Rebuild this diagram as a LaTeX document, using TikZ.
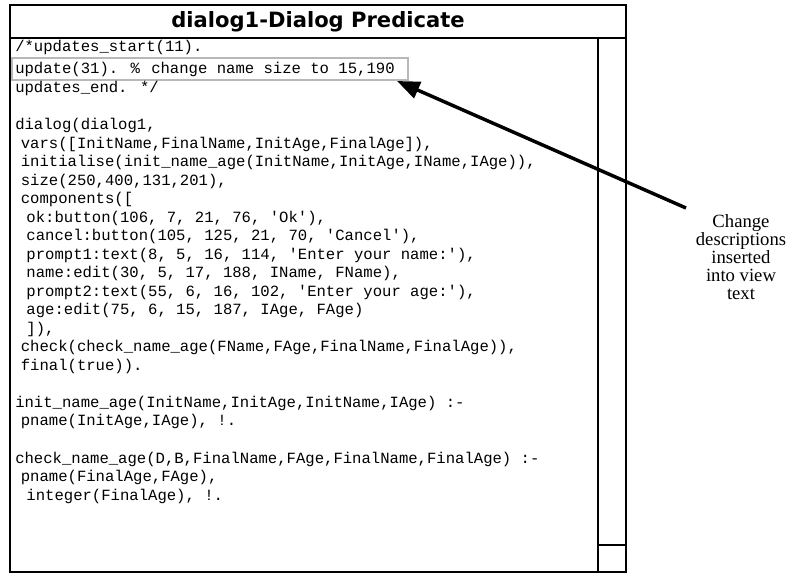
\documentclass[tikz,border=0pt]{standalone}
\usepackage{fontspec}
\setmainfont{Liberation Serif}
\newfontfamily\codefont{Liberation Mono}
\newfontfamily\titlefont{DejaVu Sans}
\usetikzlibrary{arrows.meta}
\newcommand{\ind}{\hspace{4.2pt}}
\begin{document}
\begin{tikzpicture}[x=0.75pt,y=-0.75pt,
  code/.style={anchor=base west,inner sep=0pt,font=\codefont\fontsize{11.7}{13}\selectfont},
  win/.style={draw=black,line width=1.5pt},
  hlbox/.style={draw=black!28,line width=1.2pt},
  lbl/.style={align=center,font=\fontsize{14}{13.6}\selectfont,inner sep=0pt},
  bigarrow/.style={line width=2.6pt,-{Triangle[length=17pt,width=13pt]}}]
\useasboundingbox (0,0) rectangle (793,575);
% window
\draw[win] (10,5) rectangle (626,572);
\draw[win] (10,38) -- (626,38);
\draw[win] (598,38) -- (598,572);
\draw[win] (598,545) -- (626,545);
\node[font=\titlefont\bfseries\fontsize{15.8}{18}\selectfont,inner sep=0pt] (title) at (318,22) {dialog1-Dialog Predicate};
% highlight box
\node[hlbox,minimum width=396pt*0.75,minimum height=22pt*0.75,inner sep=0pt] (hl) at (210,69) {};
% code lines
\node[code] (l1) at (15,51) {/*updates\_start(11).};
\node[code] (l2) at (15,73) {update(31). \%\ind\ind change name size to 15,190};
\node[code] (l3) at (15,92) {updates\_end. */};
\node[code] (l4) at (15,129.5) {dialog(dialog1,};
\node[code] (l5) at (15,148) {\ind vars([InitName,FinalName,InitAge,FinalAge]),};
\node[code] (l6) at (15,166.5) {\ind initialise(init\_name\_age(InitName,InitAge,IName,IAge)),};
\node[code] (l7) at (15,185) {\ind size(250,400,131,201),};
\node[code] (l8) at (15,203.5) {\ind components([};
\node[code] (l9) at (15,222) {\ind\ind ok:button(106, 7, 21, 76, \textquotesingle Ok\textquotesingle),};
\node[code] (l10) at (15,240.5) {\ind\ind cancel:button(105, 125, 21, 70, \textquotesingle Cancel\textquotesingle),};
\node[code] (l11) at (15,259) {\ind\ind prompt1:text(8, 5, 16, 114, \textquotesingle Enter your name:\textquotesingle),};
\node[code] (l12) at (15,277.5) {\ind\ind name:edit(30, 5, 17, 188, IName, FName),};
\node[code] (l13) at (15,296) {\ind\ind prompt2:text(55, 6, 16, 102, \textquotesingle Enter your age:\textquotesingle),};
\node[code] (l14) at (15,314.5) {\ind\ind age:edit(75, 6, 15, 187, IAge, FAge)};
\node[code] (l15) at (15,333) {\ind\ind ]),};
\node[code] (l16) at (15,351.5) {\ind check(check\_name\_age(FName,FAge,FinalName,FinalAge)),};
\node[code] (l17) at (15,370) {\ind final(true)).};
\node[code] (l18) at (15,407) {init\_name\_age(InitName,InitAge,InitName,IAge) :-};
\node[code] (l19) at (15,425.5) {\ind pname(InitAge,IAge), !.};
\node[code] (l20) at (15,463) {check\_name\_age(D,B,FinalName,FAge,FinalName,FinalAge) :-};
\node[code] (l21) at (15,481.5) {\ind pname(FinalAge,FAge),};
\node[code] (l22) at (15,500) {\ind\ind integer(FinalAge), !.};
% label and arrow
\node[lbl] (note) at (741,257) {Change\\descriptions\\inserted\\into view\\text};
\coordinate (from) at (686,208);
\coordinate (tip) at (397,81);
\draw[bigarrow] (from) -- (tip);
\end{tikzpicture}
\end{document}
